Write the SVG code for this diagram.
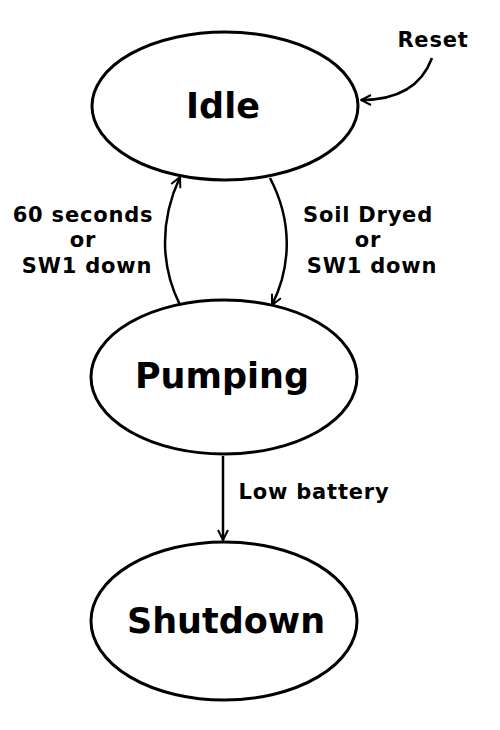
<svg xmlns="http://www.w3.org/2000/svg" width="500" height="730" viewBox="0 0 500 730">
<style>
.node{fill:#fff;stroke:#000;stroke-width:3}
.title{font-family:"DejaVu Sans",Verdana,sans-serif;font-weight:bold;font-size:35px;text-anchor:middle;fill:#000}
.lbl{font-family:"DejaVu Sans",Verdana,sans-serif;font-weight:bold;font-size:21px;letter-spacing:0.8px;text-anchor:middle;fill:#000}
.edge{fill:none;stroke:#000;stroke-width:2.5;marker-end:url(#arr)}
</style>
<defs>
<marker id="arr" viewBox="0 0 12 12" refX="11" refY="6" markerWidth="12" markerHeight="12" markerUnits="userSpaceOnUse" orient="auto">
<polyline points="1,1 11,6 1,11" fill="none" stroke="#000" stroke-width="2"/>
</marker>
</defs>
<g id="connectors">
<path class="edge" d="M180,305 C160,265 160,220 180,177"/>
<path class="edge" d="M270,178 C292,220 292,265 272,305"/>
<path class="edge" d="M432,58 C422,85 400,100 361,100"/>
<path class="edge" d="M223,456 L223,540"/>
<text class="lbl" x="83" y="222">60 seconds</text>
<text class="lbl" x="83" y="247">or</text>
<text class="lbl" x="87" y="273">SW1 down</text>
<text class="lbl" x="368" y="222">Soil Dryed</text>
<text class="lbl" x="368" y="247">or</text>
<text class="lbl" x="372" y="273">SW1 down</text>
<text class="lbl" x="314" y="499">Low battery</text>
<text class="lbl" x="433" y="47">Reset</text>
</g>
<g id="idle">
<ellipse class="node" cx="225" cy="106" rx="133" ry="74"/>
<text class="title" x="223" y="118">Idle</text>
</g>
<g id="pumping">
<ellipse class="node" cx="224" cy="377" rx="133" ry="77"/>
<text class="title" x="222" y="388">Pumping</text>
</g>
<g id="shutdown">
<ellipse class="node" cx="224" cy="621" rx="133" ry="79"/>
<text class="title" x="226" y="633">Shutdown</text>
</g>
</svg>
